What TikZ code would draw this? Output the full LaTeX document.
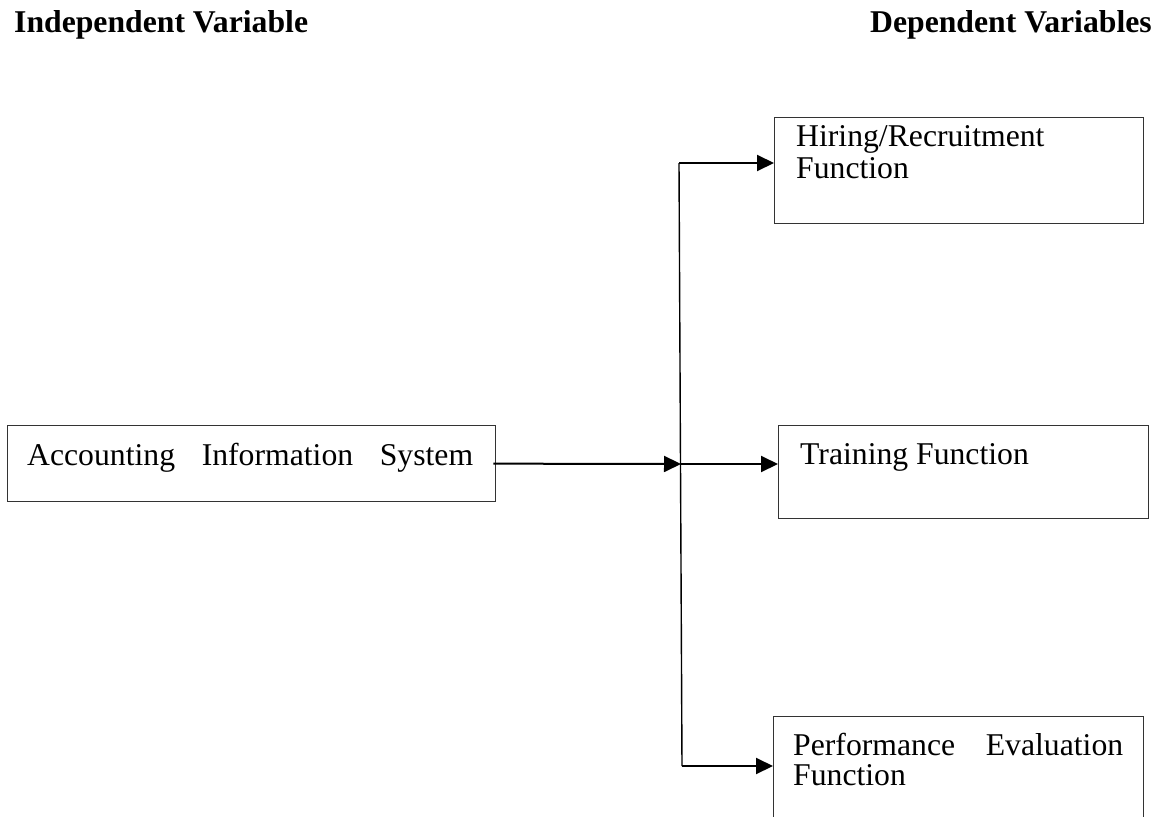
\documentclass[tikz,border=0pt]{standalone}
\usepackage{fontspec}
\setmainfont{Liberation Serif}
\usetikzlibrary{arrows.meta}
\begin{document}
\begin{tikzpicture}[x=1pt,y=-1pt,
  every node/.style={font=\fontsize{31.7}{31.7}\selectfont},
  varbox/.style={draw=black!80, line width=1.3pt, rectangle, inner sep=0pt, anchor=north west},
  label/.style={anchor=base west, inner sep=0pt},
  flow/.style={draw=black, line width=2pt, -{Triangle[length=17pt,width=16pt]}},
  rail/.style={draw=black, line width=1.4pt}]
\useasboundingbox (0,0) rectangle (1168,817);
\clip (0,0) rectangle (1168,817);

% column headings
\node[label] (hindep) at (14,32) {\bfseries Independent Variable};
\node[label] (hdep) at (870,32) {\bfseries Dependent Variables};

% boxes
\node[varbox, minimum width=488pt, minimum height=76pt] (ais) at (7,425) {};
\node[varbox, minimum width=369pt, minimum height=106pt] (hire) at (774,117) {};
\node[varbox, minimum width=370pt, minimum height=93pt] (train) at (778,425) {};
\node[varbox, minimum width=370pt, minimum height=130pt] (perf) at (773,716) {};

% box texts
\node[label] (taisl) at (27,465) {\makebox[446pt][s]{Accounting Information System}};
\node[label] (thire1) at (796,146) {Hiring/Recruitment};
\node[label] (thire2) at (796,178) {Function};
\node[label] (ttrain) at (800,464) {Training Function};
\node[label] (tperf1) at (793,755) {\makebox[330pt][s]{Performance Evaluation}};
\node[label] (tperf2) at (793,785) {Function};

% distribution rail
\coordinate (top) at (679,163);
\coordinate (mid) at (681,464);
\coordinate (bot) at (682,766);
\draw[rail] (top) -- (bot);

% connectors
\draw[flow] ([xshift=-3pt]ais.east) -- (mid);
\draw[flow] (top) -- (top -| hire.west);
\draw[flow] (mid) -- (mid -| train.west);
\draw[flow] (bot) -- (bot -| perf.west);
\end{tikzpicture}
\end{document}
